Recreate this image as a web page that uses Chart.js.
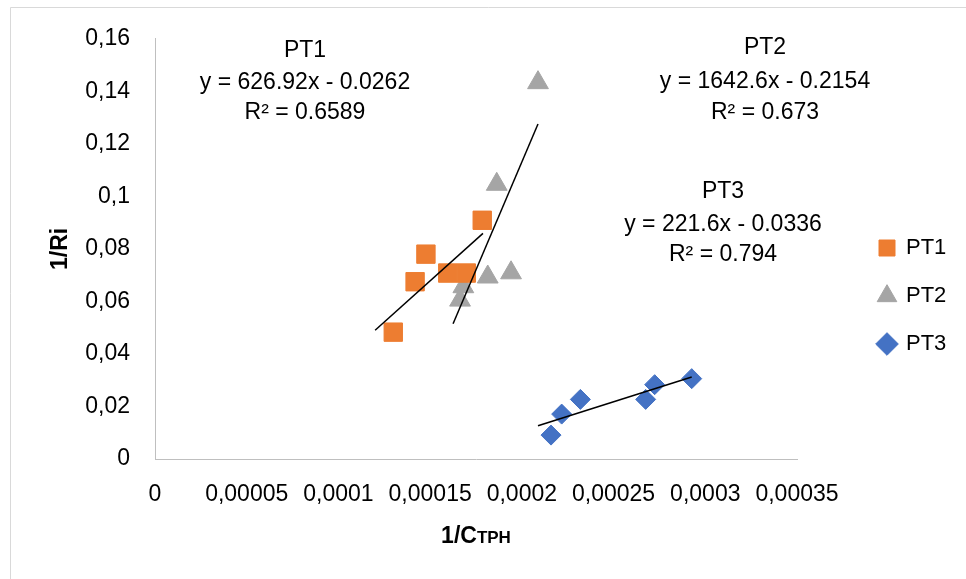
<!DOCTYPE html>
<html>
<head>
<meta charset="utf-8">
<script src="https://cdn.jsdelivr.net/npm/chart.js@4.4.1/dist/chart.umd.min.js"></script>
<style>
html, body { margin: 0; padding: 0; background: #ffffff; }
#wrap { width: 966px; height: 579px; position: relative; }
</style>
</head>
<body>
<div id="wrap"><canvas id="c" width="966" height="579"></canvas></div>
<script>
// ---------- data ----------
const seriesNames = ['PT1', 'PT2', 'PT3'];

const pt1X = [0.0001299, 0.0001418, 0.0001477, 0.0001596, 0.0001697, 0.0001784];
const pt1Y = [0.0483, 0.0675, 0.0780, 0.0708, 0.0708, 0.0909];

const pt2X = [0.0002088, 0.0001863, 0.0001941, 0.0001814, 0.0001681, 0.0001663];
const pt2Y = [0.1433, 0.1046, 0.0709, 0.0693, 0.0656, 0.0605];

const pt3X = [0.0002159, 0.0002217, 0.0002319, 0.0002675, 0.0002724, 0.0002926];
const pt3Y = [0.0091, 0.0171, 0.0227, 0.0227, 0.0283, 0.0306];

// linear trendlines as printed on the chart
const trendSlopes = [626.92, 1642.6, 221.6];
const trendIntercepts = [-0.0262, -0.2154, -0.0336];
const trendStartX = [0.00012, 0.0001625, 0.0002088];
const trendEndX = [0.0001788, 0.0002088, 0.0002926];

const eqLabels = ['y = 626.92x - 0.0262', 'y = 1642.6x - 0.2154', 'y = 221.6x - 0.0336'];
const r2Labels = ['R\u00B2 = 0.6589', 'R\u00B2 = 0.673', 'R\u00B2 = 0.794'];

const xTickValues = [0, 0.00005, 0.0001, 0.00015, 0.0002, 0.00025, 0.0003, 0.00035];
const xTickLabels = ['0', '0,00005', '0,0001', '0,00015', '0,0002', '0,00025', '0,0003', '0,00035'];
const yTickValues = [0, 0.02, 0.04, 0.06, 0.08, 0.1, 0.12, 0.14, 0.16];
const yTickLabels = ['0', '0,02', '0,04', '0,06', '0,08', '0,1', '0,12', '0,14', '0,16'];

const yTitle = '1/Ri';
const xTitleMain = '1/C';
const xTitleSmall = 'TPH';

// ---------- styles ----------
const FONT = '"Liberation Sans", Arial, sans-serif';
const colors = ['#ED7D31', '#A5A5A5', '#4472C4'];
const pointStyles = ['rect', 'triangle', 'rectRot'];
const pointRadii = [13, 12, 10];
const TEXT = '#000000';
const AXIS = '#BFBFBF';

const CHART_LEFT = 155, CHART_RIGHT = 797, CHART_TOP = 37, CHART_BOTTOM = 459;
const CANVAS_W = 966, CANVAS_H = 579;
const PAD_BOTTOM = 24;
const LEGEND_FONT = 22, LEGEND_BOX = 16, LEGEND_PAD = 26;
const LEGEND_ITEM_X = 879;

// measure legend width so the plot area ends exactly at CHART_RIGHT
const mctx = document.createElement('canvas').getContext('2d');
mctx.font = LEGEND_FONT + 'px ' + FONT;
const maxLegendText = Math.max(...seriesNames.map(s => mctx.measureText(s).width));
const legendWidth = LEGEND_BOX + LEGEND_FONT / 2 + maxLegendText + LEGEND_PAD + 10;
const PAD_RIGHT = CANVAS_W - CHART_RIGHT - legendWidth;

const seriesX = [pt1X, pt2X, pt3X];
const seriesY = [pt1Y, pt2Y, pt3Y];

const datasets = [];
seriesNames.forEach((name, i) => {
  datasets.push({
    label: name,
    data: seriesX[i].map((x, k) => ({ x: x, y: seriesY[i][k] })),
    backgroundColor: colors[i],
    borderColor: colors[i],
    borderWidth: 1,
    pointStyle: pointStyles[i],
    pointRadius: pointRadii[i],
    pointHoverRadius: pointRadii[i],
    showLine: false,
    order: 1
  });
});
seriesNames.forEach((name, i) => {
  const xs = [trendStartX[i], trendEndX[i]];
  datasets.push({
    label: name + ' trend',
    isTrend: true,
    data: xs.map(x => ({ x: x, y: trendSlopes[i] * x + trendIntercepts[i] })),
    borderColor: '#000000',
    backgroundColor: '#000000',
    borderWidth: 1.5,
    pointRadius: 0,
    showLine: true,
    fill: false,
    order: 0
  });
});

// annotation block placement (pixel anchors)
const annotPos = [
  { x: 305, ys: [51, 83, 113] },
  { x: 765, ys: [48, 82, 113] },
  { x: 723, ys: [192, 225, 255] }
];

const decorPlugin = {
  id: 'decor',
  beforeDraw(chart) {
    const ctx = chart.ctx;
    ctx.save();
    ctx.fillStyle = '#ffffff';
    ctx.fillRect(0, 0, CANVAS_W, CANVAS_H);
    ctx.strokeStyle = '#D9D9D9';
    ctx.lineWidth = 1;
    ctx.beginPath();
    ctx.moveTo(10.5, CANVAS_H + 5);
    ctx.lineTo(10.5, 7.5);
    ctx.lineTo(CANVAS_W + 5, 7.5);
    ctx.stroke();
    ctx.restore();
  },
  afterLayout(chart) {
    const lg = chart.legend;
    if (lg) {
      const dx = LEGEND_ITEM_X - (lg.left + LEGEND_PAD);
      lg.left += dx;
      lg.right += dx;
    }
  },
  afterDraw(chart) {
    const ctx = chart.ctx;
    ctx.save();
    ctx.fillStyle = TEXT;
    ctx.textAlign = 'center';
    ctx.textBaseline = 'middle';
    ctx.font = '23px ' + FONT;
    annotPos.forEach((p, i) => {
      ctx.fillText(seriesNames[i], p.x, p.ys[0]);
      ctx.fillText(eqLabels[i], p.x, p.ys[1]);
      ctx.fillText(r2Labels[i], p.x, p.ys[2]);
    });
    // x axis title with small caps part
    const bigFont = 'bold 23px ' + FONT;
    const smallFont = 'bold 17px ' + FONT;
    ctx.font = bigFont;
    const w1 = ctx.measureText(xTitleMain).width;
    ctx.font = smallFont;
    const w2 = ctx.measureText(xTitleSmall).width;
    const cx = (chart.chartArea.left + chart.chartArea.right) / 2;
    const startX = cx - (w1 + w2) / 2;
    ctx.textAlign = 'left';
    ctx.textBaseline = 'alphabetic';
    ctx.font = bigFont;
    ctx.fillText(xTitleMain, startX, 543);
    ctx.font = smallFont;
    ctx.fillText(xTitleSmall, startX + w1, 543);
    ctx.restore();
  }
};

Chart.defaults.font.family = FONT;
Chart.defaults.color = TEXT;

new Chart(document.getElementById('c'), {
  type: 'scatter',
  data: { datasets: datasets },
  options: {
    responsive: false,
    animation: false,
    devicePixelRatio: 1,
    layout: { padding: { top: CHART_TOP, left: 0, right: PAD_RIGHT, bottom: PAD_BOTTOM } },
    plugins: {
      tooltip: { enabled: false },
      legend: {
        display: true,
        position: 'right',
        align: 'center',
        labels: {
          usePointStyle: true,
          boxWidth: LEGEND_BOX,
          boxHeight: LEGEND_BOX,
          padding: LEGEND_PAD,
          color: TEXT,
          font: { size: LEGEND_FONT, family: FONT },
          filter: (item, data) => !data.datasets[item.datasetIndex].isTrend
        }
      }
    },
    scales: {
      x: {
        type: 'linear',
        min: 0,
        max: 0.00035,
        grid: { display: false, drawTicks: false },
        border: { display: true, color: AXIS, width: 1 },
        afterBuildTicks: s => { s.ticks = xTickValues.map(v => ({ value: v })); },
        afterFit: s => { s.height = CANVAS_H - PAD_BOTTOM - CHART_BOTTOM; },
        ticks: {
          autoSkip: false,
          maxRotation: 0,
          padding: 22,
          color: TEXT,
          font: { size: 23, family: FONT },
          callback: (v, i) => xTickLabels[i]
        },
        title: { display: false }
      },
      y: {
        type: 'linear',
        min: 0,
        max: 0.16,
        grid: { display: false, drawTicks: false },
        border: { display: true, color: AXIS, width: 1 },
        afterBuildTicks: s => { s.ticks = yTickValues.map(v => ({ value: v })); },
        afterFit: s => { s.width = CHART_LEFT; },
        ticks: {
          autoSkip: false,
          padding: 25,
          color: TEXT,
          font: { size: 23, family: FONT },
          callback: (v, i) => yTickLabels[i]
        },
        title: {
          display: true,
          text: yTitle,
          color: TEXT,
          font: { size: 23, weight: 'bold', family: FONT },
          padding: { top: 47, bottom: 0 }
        }
      }
    }
  },
  plugins: [decorPlugin]
});
</script>
</body>
</html>
